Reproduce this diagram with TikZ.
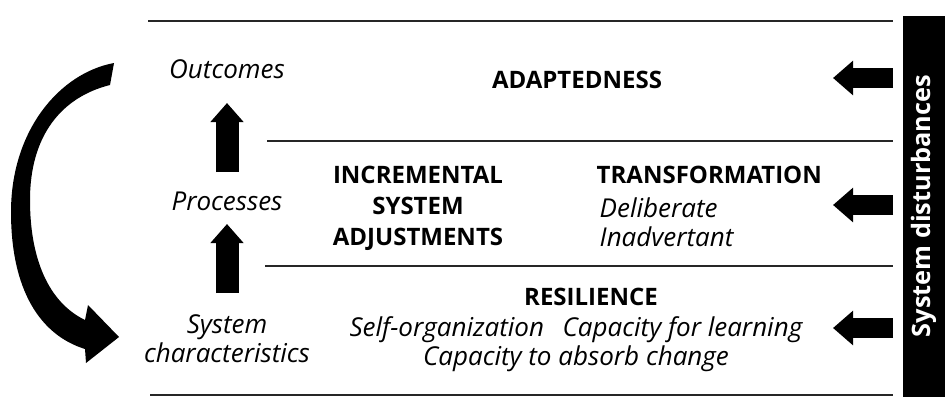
\documentclass[tikz,border=0pt]{standalone}
\usepackage{fontspec}
\setmainfont{Open Sans}
\usetikzlibrary{arrows.meta,positioning}
\tikzset{%
    >={Triangle},
    rowlabel/.style={anchor=base,font=\itshape\fontsize{19.5}{21.75}\selectfont},
    heading/.style={anchor=base,font=\bfseries\fontsize{18}{23.25}\selectfont},
    detail/.style={anchor=base,font=\itshape\fontsize{19.5}{21.75}\selectfont},
    rule/.style={line width=1.1pt,black!85},
    uparrow/.style={line width=17.25pt,-{Triangle[width=24pt,length=14.25pt]}},
    inarrow/.style={line width=15pt,-{Triangle[width=25pt,length=15pt]}},
    disturbbox/.style={fill=black,text=white,rotate=90,inner sep=0pt,
        minimum width=285.75pt,minimum height=31.5pt,
        font=\bfseries\fontsize{19}{20}\selectfont}
}

\begin{document}
\begin{tikzpicture}[x=0.75pt,y=-0.75pt]
    \useasboundingbox (0,0) rectangle (945,408);
    %%%%% rows
    \draw[rule] (148,21) -- (893,21);
    \draw[rule] (267,141) -- (893,141);
    \draw[rule] (265,266) -- (893,266);
    \draw[rule] (150,395) -- (893,395);
    %%%%% left column
    \node [rowlabel] (outcomes) at (227,78) {Outcomes};
    \node [rowlabel] (processes) at (227,210) {Processes};
    \node [rowlabel,align=center] (syschar) at (227,362) {System\\characteristics};
    \draw[uparrow] ([yshift=28.5pt]processes.base) -- ([yshift=-18.75pt]outcomes.base);
    \draw[uparrow] ([yshift=51.75pt]syschar.base) -- ([yshift=-10.5pt]processes.base);
    %%%%% feedback arrow
    \fill (114,63) .. controls (60,73) and (11,130) .. (11,212)
        .. controls (11,290) and (40,335) .. (85,349)
        -- (86,363) -- (119,337) -- (88,305) -- (85,320)
        .. controls (48,302) and (30,258) .. (30,200)
        .. controls (30,135) and (62,97) .. (110,85) -- cycle;
    %%%%% rows text
    \node [heading] (adapt) at (577,88) {ADAPTEDNESS};
    \node [heading,align=center] (incr) at (418,245) {INCREMENTAL\\SYSTEM\\ADJUSTMENTS};
    \node [heading,anchor=base west] (transf) at (592,183) {TRANSFORMATION};
    \node [detail,anchor=base west] (delib) at (595,217) {Deliberate};
    \node [detail,anchor=base west] (inadv) at (595,246) {Inadvertant};
    \node [heading] (resil) at (591,305) {RESILIENCE};
    \node [detail] (selforg) at (576,336) {Self-organization\hspace{14pt}Capacity for learning};
    \node [detail] (absorb) at (576,365) {Capacity to absorb change};
    %%%%% disturbances
    \node [disturbbox] (disturb) at (924,206) {System disturbances};
    \foreach \r/\y in {1/78,2/205,3/328}{
        \coordinate (from\r) at (893,\y);
        \coordinate (to\r) at (833,\y);
        \draw[inarrow] (from\r) -- (to\r);
    }
\end{tikzpicture}
\end{document}
